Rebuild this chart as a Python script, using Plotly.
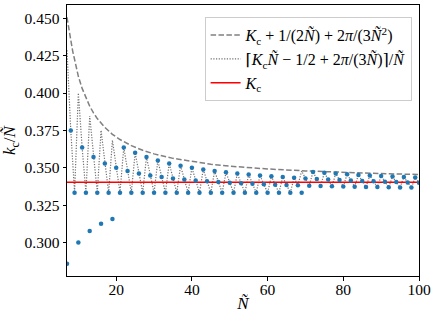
import numpy as np
import plotly.graph_objects as go

K_C = 0.3403

# N tilde values, integer
n_vals = list(range(7, 101))

kc_num = [2, 3, 3, 3, 4, 4, 4, 5, 5, 5, 6, 6, 6, 7, 7,
          8, 8, 8, 9, 9, 9, 10, 10, 10, 11, 11, 11, 12, 12, 12, 13, 13, 13,
          14, 14, 14, 15, 15, 15, 16, 16, 16, 17, 17, 17, 18, 18, 18, 19, 19, 19,
          20, 20, 20, 21, 21, 21, 22, 22, 22, 23, 23, 23, 24, 24,
          25, 25, 25, 26, 26, 26, 27, 27, 27, 28, 28, 28, 29, 29, 29,
          30, 30, 30, 31, 31, 31, 32, 32, 32, 33, 33, 33, 34, 34]

# numerators of the ceiling estimate (dotted zigzag)
ceil_num = [3, 3, 3, 4, 4, 4, 5, 5, 5, 6, 6, 6, 7, 7, 7,
            8, 8, 8, 9, 9, 9, 10, 10, 10, 11, 11, 11, 12, 12, 12, 13, 13, 13,
            14, 14, 14, 15, 15, 15, 16, 16, 16, 17, 17, 17, 18, 18, 18, 19, 19, 19,
            20, 20, 20, 21, 21, 21, 22, 22, 22, 23, 23,
            24, 24, 24,
            25, 25, 25, 26, 26, 26, 27, 27, 27, 28, 28, 28, 29, 29, 29,
            30, 30, 30, 31, 31, 31, 32, 32, 32, 33, 33, 33, 34, 34]

# smooth asymptotic curve (dashed), sampled values
dash_n = [7, 7.5, 8, 8.5, 9, 10, 11, 12, 13, 14, 15, 17, 19, 21, 24, 27, 30,
          35, 40, 45, 50, 60, 70, 80, 90, 100]
dash_y = [0.4507, 0.4442, 0.4355, 0.4281, 0.4217, 0.4112, 0.4031, 0.3965,
          0.3912, 0.3867, 0.3829, 0.3770, 0.3724, 0.3689, 0.3648, 0.3617,
          0.3593, 0.3563, 0.3541, 0.3524, 0.3511, 0.3492, 0.3479, 0.3469,
          0.3461, 0.3455]

n_arr = np.array(n_vals)
kc_y = np.array(kc_num) / n_arr
ceil_y = np.array(ceil_num) / n_arr

FONT = "Liberation Serif, DejaVu Serif, serif"

fig = go.Figure()
fig.add_trace(go.Scatter(
    x=dash_n, y=dash_y, mode="lines",
    line=dict(color="gray", width=1.5, dash="5.5px,2.4px"),
    name="<i>K</i><sub>c</sub> + 1/(2<i>Ñ</i>) + 2<i>π</i>/(3<i>Ñ</i><sup>2</sup>)",
))
fig.add_trace(go.Scatter(
    x=n_vals, y=ceil_y, mode="lines",
    line=dict(color="#707070", width=1.2, dash="1.2px,1.5px"),
    name="⌈<i>K</i><sub>c</sub><i>Ñ</i> − 1/2 + 2<i>π</i>/(3<i>Ñ</i>)⌉/<i>Ñ</i>",
))
fig.add_trace(go.Scatter(
    x=[n_vals[0], n_vals[-1]], y=[K_C, K_C], mode="lines",
    line=dict(color="red", width=1.5),
    name="<i>K</i><sub>c</sub>",
))
fig.add_trace(go.Scatter(
    x=n_vals, y=kc_y, mode="markers",
    marker=dict(color="#1f77b4", size=4.5),
    showlegend=False,
))

axis_style = dict(
    showgrid=False, zeroline=False,
    showline=True, linecolor="black", linewidth=1, mirror=True,
    ticks="outside", ticklen=3.5, tickwidth=0.8, tickcolor="black",
    tickfont=dict(family=FONT, size=15.5, color="black"),
)

fig.update_xaxes(
    range=[7, 100], tickvals=[20, 40, 60, 80, 100],
    ticklabelstandoff=-4,
    title=dict(text="<i>Ñ</i>", font=dict(family=FONT, size=17, color="black"), standoff=0),
    **axis_style,
)
fig.update_yaxes(
    range=[0.2776, 0.4589],
    tickvals=[0.300, 0.325, 0.350, 0.375, 0.400, 0.425, 0.450],
    tickformat=".3f",
    title=dict(text="<i>k</i><sub>c</sub>/<i>Ñ</i>", font=dict(family=FONT, size=17, color="black"), standoff=4),
    **axis_style,
)

fig.update_layout(
    width=436, height=321,
    margin=dict(l=67, r=17, t=5, b=45),
    plot_bgcolor="white", paper_bgcolor="white",
    font=dict(family=FONT, size=15, color="black"),
    legend=dict(
        x=0.979, y=0.955, xanchor="right", yanchor="top",
        bgcolor="rgba(255,255,255,0.8)", bordercolor="#cccccc", borderwidth=1,
        font=dict(family=FONT, size=16),
        tracegroupgap=0, itemwidth=30,
    ),
)

# drop the default page margin so the figure sits at the window's corner
fig.write_html("out.html", config={"displayModeBar": False},
               post_script="document.body.style.margin='0';")
